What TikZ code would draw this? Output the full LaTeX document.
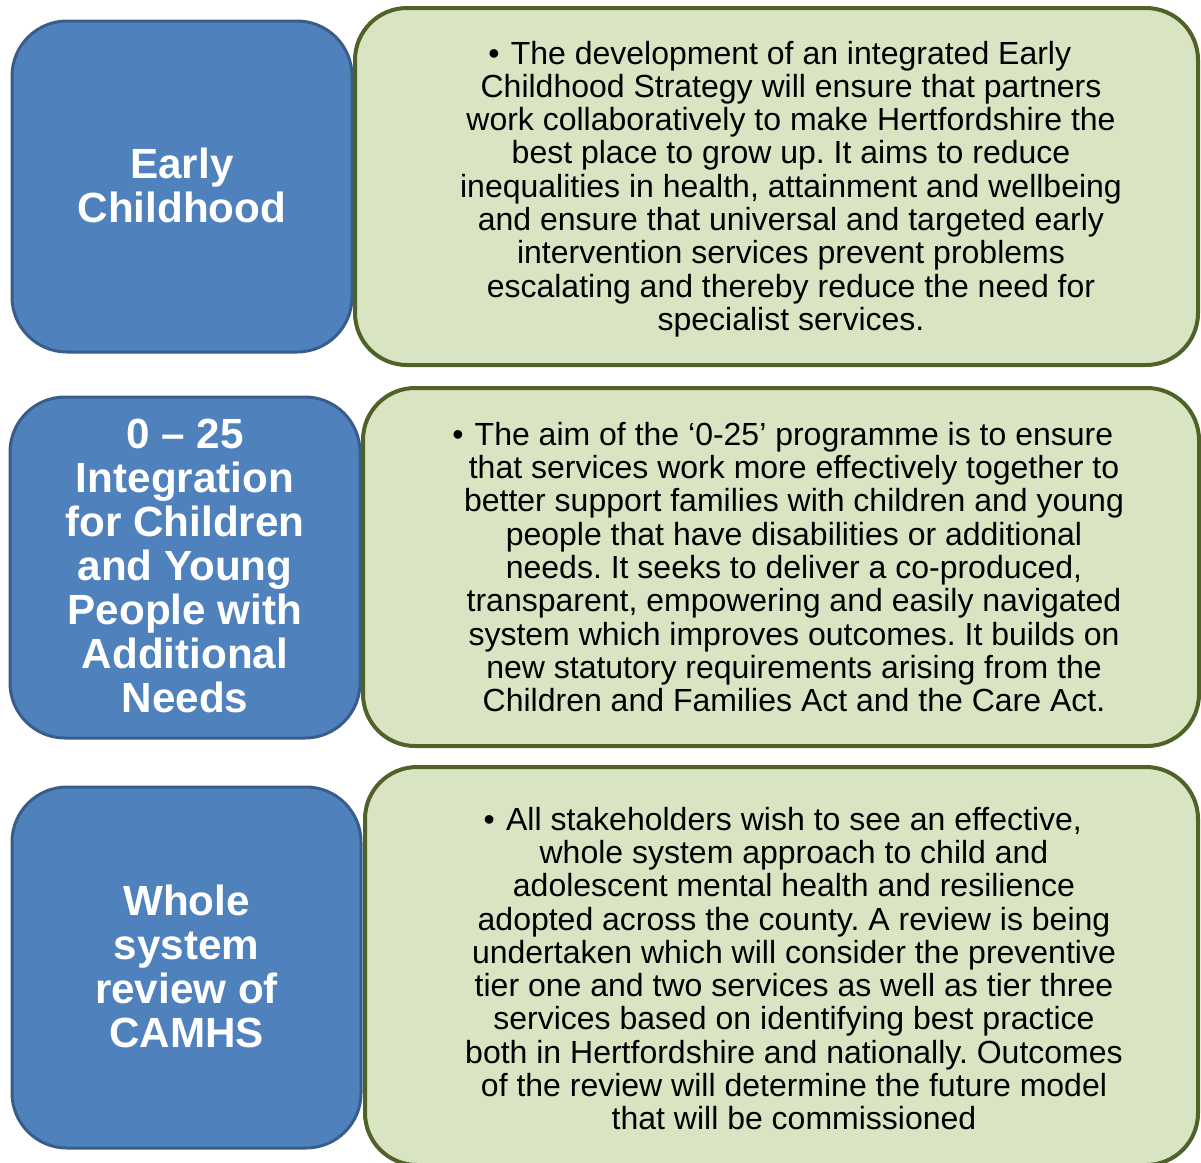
\documentclass[tikz,border=0pt]{standalone}
\usepackage{fontspec}
\setmainfont{Liberation Sans}
\frenchspacing
\definecolor{bfill}{HTML}{4F81BD}
\definecolor{bline}{HTML}{385D8A}
\definecolor{gfill}{HTML}{D9E4C3}
\definecolor{gline}{HTML}{4F6228}
\newcommand{\bul}{\llap{\textbullet\hspace{0.35em}}}
\tikzset{
  bluebox/.style={draw=bline, fill=bfill, line width=3pt, rounded corners=55pt, inner sep=0pt},
  greenbox/.style={draw=gline, fill=gfill, line width=4pt, rounded corners=52pt, inner sep=0pt},
  bluetext/.style={text=white, align=center, font=\fontsize{42.2}{44}\selectfont\bfseries, inner sep=0pt},
  greentext/.style={text=black, align=center, font=\fontsize{32}{33.3}\selectfont, inner sep=0pt},
}
\begin{document}
\begin{tikzpicture}[x=1pt,y=-1pt]
\useasboundingbox (0,0) rectangle (1201,1162);
% row 1
\node[bluebox, minimum width=340pt, minimum height=331pt] (b1) at (182,186.5) {};
\node[bluetext] (t1) at (182,185) {Early\\Childhood};
\node[greenbox, minimum width=843pt, minimum height=357pt] (g1) at (776.5,186.5) {};
\node[greentext] (s1) at (791,189) {\bul The development of an integrated Early\\
Childhood Strategy will ensure that partners\\
work collaboratively to make Hertfordshire the\\
best place to grow up. It aims to reduce\\
inequalities in health, attainment and wellbeing\\
and ensure that universal and targeted early\\
intervention services prevent problems\\
escalating and thereby reduce the need for\\
specialist services.};
% row 2
\node[bluebox, minimum width=350pt, minimum height=341pt] (b2) at (185,567.5) {};
\node[bluetext] (t2) at (185,566) {0 -- 25\\Integration\\for Children\\and Young\\People with\\Additional\\Needs};
\node[greenbox, minimum width=836pt, minimum height=358pt] (g2) at (781,567) {};
\node[greentext] (s2) at (794,567) {\bul The aim of the ‘0-25’ programme is to ensure\\
that services work more effectively together to\\
better support families with children and young\\
people that have disabilities or additional\\
needs. It seeks to deliver a co-produced,\\
transparent, empowering and easily navigated\\
system which improves outcomes. It builds on\\
new statutory requirements arising from the\\
Children and Families Act and the Care Act.};
% row 3
\node[bluebox, minimum width=349pt, minimum height=361pt] (b3) at (186.5,967.5) {};
\node[bluetext] (t3) at (186.5,966) {Whole\\system\\review of\\CAMHS};
\node[greenbox, minimum width=833pt, minimum height=398pt] (g3) at (781.5,966) {};
\node[greentext] (s3) at (794,968.5) {\bul All stakeholders wish to see an effective,\\
whole system approach to child and\\
adolescent mental health and resilience\\
adopted across the county. A review is being\\
undertaken which will consider the preventive\\
tier one and two services as well as tier three\\
services based on identifying best practice\\
both in Hertfordshire and nationally. Outcomes\\
of the review will determine the future model\\
that will be commissioned};
\end{tikzpicture}
\end{document}
